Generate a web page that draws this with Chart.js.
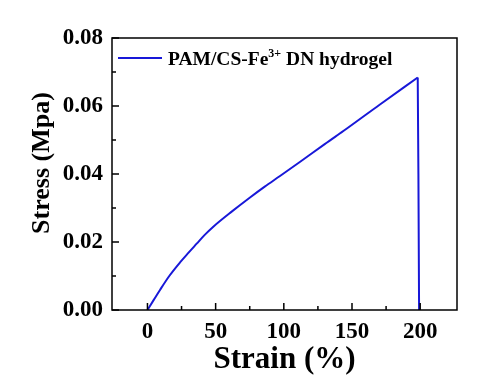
<!DOCTYPE html>
<html>
<head>
<meta charset="utf-8">
<script src="https://cdn.jsdelivr.net/npm/chart.js@4"></script>
<style>
  body { margin: 0; background: #fff; }
</style>
</head>
<body>
<canvas id="myChart" width="499" height="380"></canvas>
<script>
// values: loading part up to the break
var strain = [0, 4.5, 9.2, 16, 23.9, 30, 36.1, 42, 48.3, 62, 75.2, 86, 97.2, 112, 130, 146, 170, 198.2];
var stress = [0, 0.0029, 0.0059, 0.0100, 0.0140, 0.0168, 0.0195, 0.0221, 0.0245, 0.0290, 0.0331, 0.0363, 0.0394, 0.0436, 0.0488, 0.0533, 0.0603, 0.0684];
// the break: stress falls to zero
var dropStrain = [198.2, 198.7, 199.2];
var dropStress = [0.0684, 0.0400, 0];
var xTicks = [0, 50, 100, 150, 200];
var xMinor = [25, 75, 125, 175];
var yTicks = [0, 0.02, 0.04, 0.06, 0.08];
var yMinor = [0.01, 0.03, 0.05, 0.07];
var seriesName = ['PAM/CS-Fe', '3+', ' DN hydrogel'];
var yTitle = 'Stress (Mpa)';

var FONT = '"Liberation Serif", "Times New Roman", serif';
var LINE_COLOR = '#1818d8';

function toPoints(xs, ys) {
    return xs.map(function(s, i) { return {x: s, y: ys[i]}; });
}

// frame, inward ticks, y title and legend
var framePlugin = {
    id: 'frame',
    afterDraw: function(chart) {
        var ctx = chart.ctx, a = chart.chartArea;
        var xs = chart.scales.x, ys = chart.scales.y;
        ctx.save();
        ctx.strokeStyle = '#000';
        ctx.lineWidth = 1.5;
        ctx.strokeRect(a.left, a.top, a.right - a.left, a.bottom - a.top);
        ctx.beginPath();
        xTicks.forEach(function(v) { var p = xs.getPixelForValue(v); ctx.moveTo(p, a.bottom); ctx.lineTo(p, a.bottom - 7); });
        xMinor.forEach(function(v) { var p = xs.getPixelForValue(v); ctx.moveTo(p, a.bottom); ctx.lineTo(p, a.bottom - 4); });
        yTicks.forEach(function(v) { var p = ys.getPixelForValue(v); ctx.moveTo(a.left, p); ctx.lineTo(a.left + 7, p); });
        yMinor.forEach(function(v) { var p = ys.getPixelForValue(v); ctx.moveTo(a.left, p); ctx.lineTo(a.left + 4, p); });
        ctx.stroke();

        // y title, slightly above the middle of the axis
        ctx.save();
        ctx.translate(42, 163);
        ctx.rotate(-Math.PI / 2);
        ctx.fillStyle = '#000';
        ctx.font = 'bold 26px ' + FONT;
        ctx.textAlign = 'center';
        ctx.textBaseline = 'middle';
        ctx.fillText(yTitle, 0, 0);
        ctx.restore();

        // legend
        var lx = a.left + 6, ly = a.top + 20;
        ctx.strokeStyle = LINE_COLOR;
        ctx.lineWidth = 2;
        ctx.beginPath();
        ctx.moveTo(lx, ly);
        ctx.lineTo(lx + 44, ly);
        ctx.stroke();
        ctx.fillStyle = '#000';
        ctx.textAlign = 'left';
        ctx.textBaseline = 'alphabetic';
        var tx = lx + 50, base = ly + 7;
        ctx.font = 'bold 19.5px ' + FONT;
        ctx.fillText(seriesName[0], tx, base);
        tx += ctx.measureText(seriesName[0]).width;
        ctx.font = 'bold 12px ' + FONT;
        ctx.fillText(seriesName[1], tx, base - 8);
        tx += ctx.measureText(seriesName[1]).width;
        ctx.font = 'bold 19.5px ' + FONT;
        ctx.fillText(seriesName[2], tx, base);
        ctx.restore();
    }
};

var ctx = document.getElementById('myChart');
var myChart = new Chart(ctx, {
    type: 'line',
    data: {
        datasets: [{
            label: seriesName.join(''),
            data: toPoints(strain, stress),
            borderColor: LINE_COLOR,
            borderWidth: 2,
            pointRadius: 0,
            cubicInterpolationMode: 'monotone',
            fill: false
        }, {
            label: 'break',
            data: toPoints(dropStrain, dropStress),
            borderColor: LINE_COLOR,
            borderWidth: 2,
            pointRadius: 0,
            tension: 0,
            fill: false
        }]
    },
    options: {
        responsive: false,
        animation: false,
        devicePixelRatio: 1,
        layout: { padding: { left: 0, top: 38, right: 42, bottom: 0 } },
        plugins: { legend: { display: false }, tooltip: { enabled: false } },
        scales: {
            x: {
                type: 'linear',
                min: -26,
                max: 227,
                afterBuildTicks: function(scale) { scale.ticks = xTicks.map(function(v) { return {value: v}; }); },
                afterFit: function(scale) { scale.height = 70; },
                grid: { display: false, drawTicks: false },
                border: { display: false },
                ticks: {
                    padding: 8,
                    color: '#000',
                    font: { family: FONT, size: 23, weight: 'bold' },
                    callback: function(v) { return String(v); }
                },
                title: {
                    display: true,
                    text: 'Strain (%)',
                    color: '#000',
                    padding: { top: 0, bottom: 1 },
                    font: { family: FONT, size: 31, weight: 'bold' }
                }
            },
            y: {
                min: 0,
                max: 0.08,
                afterBuildTicks: function(scale) { scale.ticks = yTicks.map(function(v) { return {value: v}; }); },
                afterFit: function(scale) { scale.width = 112; },
                grid: { display: false, drawTicks: false },
                border: { display: false },
                ticks: {
                    padding: 9,
                    color: '#000',
                    font: { family: FONT, size: 23, weight: 'bold' },
                    callback: function(v) { return v.toFixed(2); }
                }
            }
        }
    },
    plugins: [framePlugin]
});
</script>
</body>
</html>
